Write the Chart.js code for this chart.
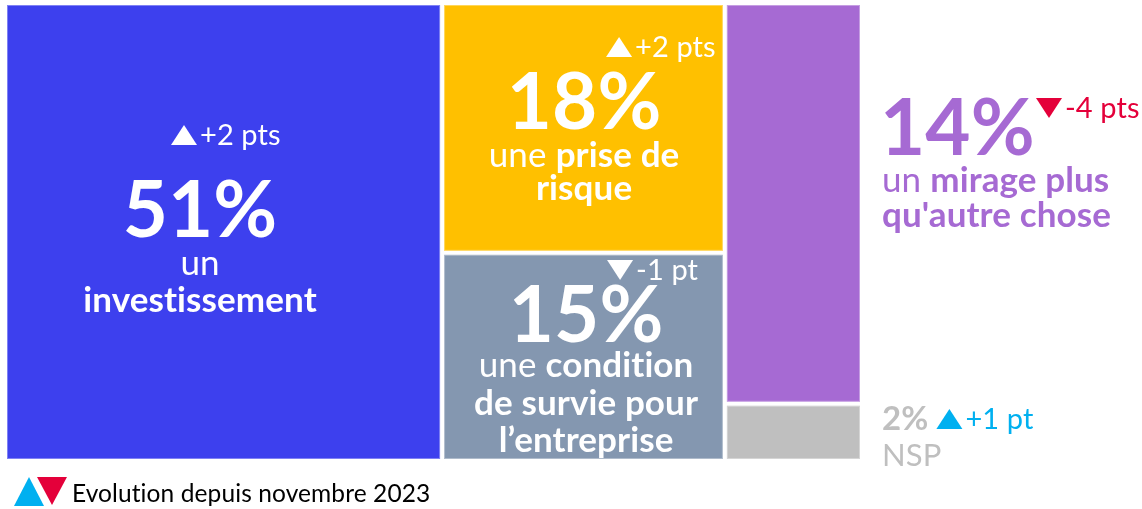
<!DOCTYPE html>
<html>
<head>
<meta charset="utf-8">
<script src="https://cdn.jsdelivr.net/npm/chart.js@4/dist/chart.umd.min.js"></script>
<style>
  html, body { margin: 0; padding: 0; background: #fff; }
  #wrap { width: 1142px; height: 509px; }
</style>
</head>
<body>
<div id="wrap"><canvas id="chart"></canvas></div>
<script>

// data
const categories = ['un investissement', 'une prise de risque', 'une condition de survie pour l’entreprise', "un mirage plus qu'autre chose", 'NSP'];
const shares = [51, 18, 15, 14, 2];
const changeLabels = ['+2 pts', '+2 pts', '-1 pt', '-4 pts', '+1 pt'];
const changeUp = [true, true, false, false, true];
const columns = [[0], [1, 2], [3, 4]];
const legendText = 'Evolution depuis novembre 2023';

const colors = ['#3D40EE', '#FFC000', '#8497B0', '#A66AD3', '#BFBFBF'];
const UP = '#00B0F0', DOWN = '#E4003A';

// text lines of each cell, [text, bold]
const cellLines = [
  [[['un', false]], [['investissement', true]]],
  [[['une ', false], ['prise de', true]], [['risque', true]]],
  [[['une ', false], ['condition', true]], [['de survie pour', true]], [['l’entreprise', true]]],
  [[['un ', false], ['mirage plus', true]], [["qu'autre chose", true]]],
  [[['NSP', false]]]
];

const FONT = 'Lato, "Open Sans", sans-serif';
const BODY = 35, PCT = 78, DELTA = 29;
function font(size, bold) { return (bold ? 'bold ' : '') + size + 'px ' + FONT; }

function tri(ctx, x, y, w, h, up, color) {
  ctx.beginPath();
  if (up) { ctx.moveTo(x, y + h); ctx.lineTo(x + w, y + h); ctx.lineTo(x + w / 2, y); }
  else { ctx.moveTo(x, y); ctx.lineTo(x + w, y); ctx.lineTo(x + w / 2, y + h); }
  ctx.closePath();
  ctx.fillStyle = color;
  ctx.fill();
}

function richLine(ctx, segs, x, y, size, color, center) {
  const widths = segs.map(s => { ctx.font = font(size, s[1]); return ctx.measureText(s[0]).width; });
  const total = widths.reduce((a, b) => a + b, 0);
  let cur = center ? x - total / 2 : x;
  ctx.fillStyle = color;
  ctx.textAlign = 'left';
  ctx.textBaseline = 'alphabetic';
  segs.forEach((s, i) => { ctx.font = font(size, s[1]); ctx.fillText(s[0], cur, y); cur += widths[i]; });
  return total;
}

function delta(ctx, i, x, base, textColor, triColor) {
  tri(ctx, x, base - 20, 26, 20, changeUp[i], triColor);
  ctx.font = font(DELTA, false);
  ctx.fillStyle = textColor;
  ctx.textAlign = 'left';
  ctx.fillText(changeLabels[i], x + 29, base);
}

function cellRects(chart) {
  const { x, y } = chart.scales;
  const gap = 2;
  const rects = [];
  let cx = 0;
  columns.forEach(col => {
    const colTotal = col.reduce((a, i) => a + shares[i], 0);
    let cy = 100;
    col.forEach(i => {
      const h = shares[i] / colTotal * 100;
      rects[i] = {
        left: x.getPixelForValue(cx) + gap,
        right: x.getPixelForValue(cx + colTotal) - gap,
        top: y.getPixelForValue(cy) + gap,
        bottom: y.getPixelForValue(cy - h) - gap
      };
      cy -= h;
    });
    cx += colTotal;
  });
  return rects;
}

const treemap = {
  id: 'treemap',
  afterDatasetsDraw(chart) {
    const ctx = chart.ctx;
    const r = cellRects(chart);
    ctx.save();
    if ('letterSpacing' in ctx) ctx.letterSpacing = '0.1px';
    r.forEach((c, i) => {
      ctx.fillStyle = colors[i];
      ctx.fillRect(c.left, c.top, c.right - c.left, c.bottom - c.top);
      ctx.strokeStyle = 'rgba(255,255,255,0.35)';
      ctx.lineWidth = 1;
      ctx.strokeRect(c.left + 0.5, c.top + 0.5, c.right - c.left - 1, c.bottom - c.top - 1);
    });

    // cell 0
    let c = r[0], tx = c.left + 193;
    delta(ctx, 0, c.left + 164, c.top + 140, '#fff', '#fff');
    ctx.font = font(PCT, true); ctx.textAlign = 'center'; ctx.fillStyle = '#fff';
    ctx.fillText(shares[0] + '%', tx, c.top + 232);
    richLine(ctx, cellLines[0][0], tx, c.top + 270, BODY, '#fff', true);
    richLine(ctx, cellLines[0][1], tx, c.top + 307, BODY, '#fff', true);

    // cell 1
    c = r[1]; tx = c.left + 140;
    delta(ctx, 1, c.left + 162, c.top + 52, '#fff', '#fff');
    ctx.font = font(PCT, true); ctx.textAlign = 'center'; ctx.fillStyle = '#fff';
    ctx.fillText(shares[1] + '%', tx, c.top + 124);
    richLine(ctx, cellLines[1][0], tx, c.top + 162, BODY, '#fff', true);
    richLine(ctx, cellLines[1][1], tx, c.top + 195, BODY, '#fff', true);

    // cell 2
    c = r[2]; tx = c.left + 142;
    const b2 = c.bottom;
    delta(ctx, 2, c.left + 163, b2 - 179, '#fff', '#fff');
    ctx.font = font(PCT, true); ctx.textAlign = 'center'; ctx.fillStyle = '#fff';
    ctx.fillText(shares[2] + '%', tx, b2 - 117);
    richLine(ctx, cellLines[2][0], tx, b2 - 82, BODY, '#fff', true);
    richLine(ctx, cellLines[2][1], tx, b2 - 44, BODY, '#fff', true);
    richLine(ctx, cellLines[2][2], tx, b2 - 7, BODY, '#fff', true);

    // cell 3, outside
    c = r[3]; tx = c.right + 20;
    ctx.font = font(PCT, true); ctx.textAlign = 'left'; ctx.fillStyle = colors[3];
    ctx.fillText(shares[3] + '%', tx, c.top + 150);
    delta(ctx, 3, tx + 156, c.top + 113, DOWN, DOWN);
    richLine(ctx, cellLines[3][0], tx + 2, c.top + 187, BODY, colors[3], false);
    richLine(ctx, cellLines[3][1], tx + 2, c.top + 222, BODY, colors[3], false);

    // cell 4, outside
    c = r[4]; tx = c.right + 22;
    ctx.font = font(33, true); ctx.textAlign = 'left'; ctx.fillStyle = colors[4];
    ctx.fillText(shares[4] + '%', tx, c.bottom - 29);
    const w4 = ctx.measureText(shares[4] + '%').width;
    delta(ctx, 4, tx + w4 + 8, c.bottom - 30, UP, UP);
    richLine(ctx, cellLines[4][0], tx, c.bottom + 7, 31, colors[4], false);

    // legend
    const ly = chart.chartArea.bottom + 16;
    tri(ctx, 14, ly, 30, 29, true, UP);
    tri(ctx, 37, ly, 30, 28, false, DOWN);
    ctx.font = font(24.5, false); ctx.fillStyle = '#000'; ctx.textAlign = 'left';
    ctx.fillText(legendText, 72, ly + 25);
    ctx.restore();
  }
};

let chartCanv = document.getElementById('chart').getContext('2d');

let chart = new Chart(chartCanv, {
  type: 'scatter',
  data: {
    labels: categories,
    datasets: [{ data: [], pointRadius: 0 }]
  },
  options: {
    responsive: true,
    maintainAspectRatio: false,
    animation: false,
    layout: { padding: { left: 5, top: 3, right: 280, bottom: 48 } },
    plugins: { legend: { display: false }, tooltip: { enabled: false } },
    scales: {
      x: { type: 'linear', min: 0, max: 100, display: false },
      y: { type: 'linear', min: 0, max: 100, display: false }
    }
  },
  plugins: [treemap]
});

</script>
</body>
</html>
